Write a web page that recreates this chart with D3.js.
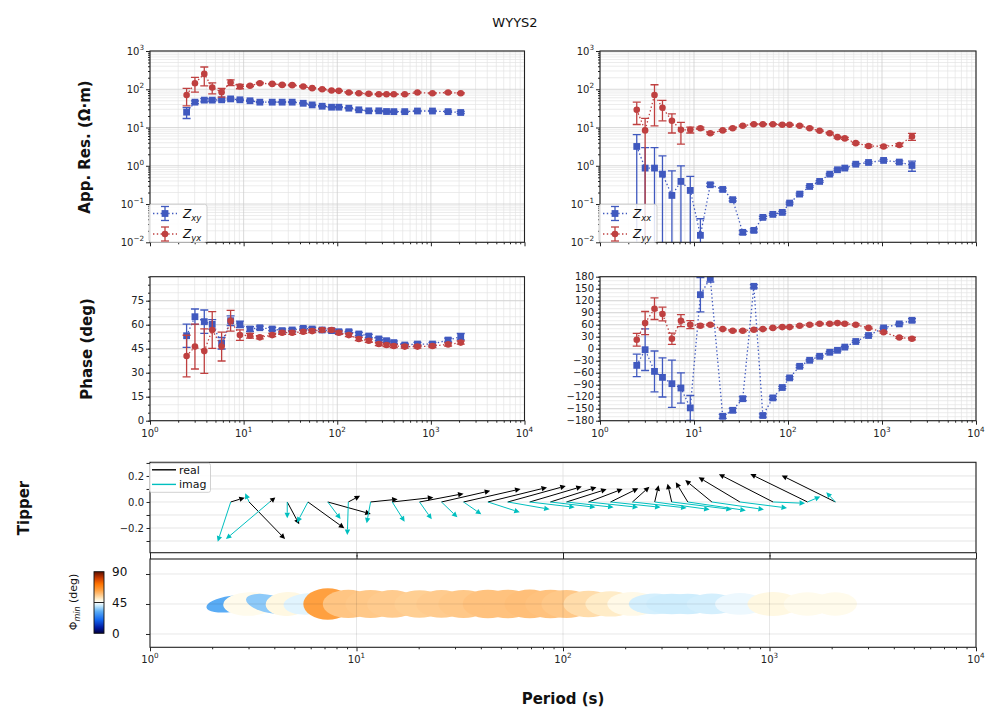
<!DOCTYPE html>
<html><head><meta charset="utf-8">
<script src="https://cdn.jsdelivr.net/npm/d3@7"></script>
<style>body{margin:0;background:#fff;} svg{font-family:"DejaVu Sans",sans-serif;}</style>
</head><body>
<svg id="c" width="1003" height="724"></svg>
<script>
// ---------------- DATA ----------------
const periods = [2.46,3.02,3.8,4.62,5.82,7.26,9.13,11.7,14.9,20.2,25.8,33,43.3,54,69,86.9,104,133,170,217,278,336,402,526,719,1040,1528,2084];

const resXY    = [25.2,46,52,52,53,56,53,50,46,46,46,46,43,39,36,34,34,32,29,27.3,27.3,26.2,26,26,27,27,26,24.7];
const resXYErr = [8,4,5,4,3,3,2.5,2,1.5,1.5,1.5,1.5,1.3,1.2,1.1,1,1,1,0.9,0.9,0.9,0.9,0.9,0.9,0.9,0.9,1,1.5];
const resYX    = [71,144,252,111,84,150,118,123,144,138,130,128,118,107,100,93,91,82,79,76,74,74,74,74,82,79,82,79];
const resYXErr = [34,60,130,35,22,26,15,6,6,5,5,5,4,4,3,3,3,3,3,3,3,3,3,3,3,3,3,3];
const resXX    = [3.2,0.87,0.87,0.605,0.168,0.39,0.227,0.0152,0.319,0.241,0.13,0.0182,0.0205,0.0448,0.0537,0.0605,0.106,0.182,0.288,0.39,0.605,0.787,0.87,1.1,1.22,1.38,1.25,1.02];
const resXXErr = [3.3,2.1,2.1,1.2,0.57,0.61,0.3,0.026,0.03,0.02,0.01,0.002,0.002,0.003,0.003,0.004,0.006,0.01,0.015,0.02,0.03,0.04,0.04,0.05,0.06,0.08,0.1,0.3];
const resYY    = [29,8.4,71,33,15,8.7,8.7,9.6,7.1,8.4,9.6,11.1,12.2,12.2,12.2,11.8,11.8,11.1,9.6,8.2,7.1,5.6,5.2,3.9,3.3,3.2,3.5,5.8];
const resYYErr = [17,9,60,18,7.8,5,1.5,0.6,0.4,0.4,0.4,0.4,0.4,0.4,0.4,0.4,0.4,0.4,0.4,0.3,0.3,0.3,0.3,0.2,0.2,0.2,0.3,1.2];

const phsXY    = [53.1,65,61.9,60.2,48.4,62.5,60.2,57.3,58.1,57.3,56.3,56.7,57.7,57.3,56.7,56.3,55.6,55.6,54.2,52.9,51.1,50,48.8,47.3,47.9,47.9,50.4,52.5];
const phsXYErr = [7.3,4.8,7.3,3,3.6,3,2,1.5,1,1,1,1,1,1,1,1,1,1,1,1,1,1,1,1,1,1,1.2,2];
const phsYX    = [40.4,46.3,43.5,56.7,46.3,62.5,53.5,53.1,52.1,53.5,55,55,55.6,56,56.7,56.7,55,53.5,51.1,50,47.9,47.3,46.7,46.3,46.3,46.7,47.7,48.8];
const phsYXErr = [13,14,13.9,11.5,9,6.5,3.3,1.5,1,1,1,1,1,1,1,1,1,1,1,1,1,1,1,1,1,1,1,1];
const phsXX    = [-41.7,-2.5,-56.7,-71.7,-87.5,-98.3,-148,135,176.7,-169,-154,-125,156,-167,-123,-97,-73,-44,-29,-19,-9,-4,4,18,33,52,62,71];
const phsXXErr = [28,52,51,49,59,38,31,43,10,5,5,5,4,4,4,3,3,3,2,2,2,2,2,2,2,2,2,4];
const phsYY    = [22.5,64,100,86.7,25,70,60,57.5,60,49,45,45,47.5,49,52,54,54,57.5,60,62.5,62.5,64,62.5,60,52,41,28,25];
const phsYYErr = [16,29,27,17,14,15,10,3,2,2,2,2,2,2,2,2,2,2,2,2,2,2,2,2,2,2,2,3];

// tipper components: x in decades of period, y in tipper units
const tipRealX = [0.068,0.174,0.027,0.058,0.176,0.208,0.057,0.131,0.199,0.213,0.236,0.276,0.286,0.281,0.252,0.223,0.194,0.165,0.134,0.082,0.019,-0.02,-0.058,-0.129,-0.2,-0.262,-0.277,-0.26];
const tipRealY = [0.033,-0.285,0.035,-0.172,-0.202,-0.092,0.048,0.021,0.035,0.064,0.086,0.1,0.112,0.123,0.118,0.113,0.098,0.1,0.105,0.117,0.128,0.141,0.152,0.168,0.19,0.214,0.215,0.204];
const tipImagX = [-0.063,-0.019,-0.212,0,-0.053,0.062,-0.005,-0.019,0.06,0.059,0.077,0.086,0.154,0.203,0.218,0.218,0.228,0.24,0.242,0.262,0.266,0.291,0.281,0.252,0.228,0.155,0.062,-0.044];
const tipImagY = [-0.305,0.067,-0.285,-0.125,-0.159,-0.131,-0.254,-0.164,-0.152,-0.133,-0.118,-0.095,-0.079,-0.056,-0.041,-0.041,-0.041,-0.041,-0.041,-0.046,-0.058,-0.058,-0.065,-0.058,-0.046,-0.01,0.042,0.075];

// phase tensor
const phiMin  = [32,47,36,48,42.5,63,56.5,56,55.5,55,55.5,56,57,57,57.5,57,56,53,50.5,47.5,41.5,41,41,41.5,43.5,48,47,47];
const phiMax  = [68,72,67,60,68,68,71,70,70,70,70,70,70,70,70,70,70,70,70,70,72,71,70,70,69,71,66,60];
const azimuth = [8,2,-12,2,3,0,0,0,0,0,0,0,0,0,0,0,0,0,0,0,0,0,0,0,0,0,0,0];

const decades = [1,10,100,1000,10000];
const resTicks = [1e-2,1e-1,1,10,100,1000];
const phaseTicksL = [0,15,30,45,60,75];
const phaseTicksR = d3.range(-180,181,30);
const tipTicks = [-0.2,0,0.2];
const ptTicks = [0,45,90];

// ---------------- LAYOUT ----------------
const L = {
  resL:{x0:150,x1:524.5,y0:51,y1:242.3},
  resR:{x0:600,x1:976,y0:51,y1:242.3},
  phL:{x0:150,x1:524.5,y0:276.7,y1:420.7},
  phR:{x0:600,x1:976,y0:276.7,y1:420.7},
  tip:{x0:150,x1:976,y0:462.3,y1:552.7},
  pt:{x0:150,x1:976,y0:559,y1:647.3}
};
const cBlue = "rgb(64,89,191)", cRed = "rgb(191,64,64)", cCyan = "#00bfbf";
const TICKF = 10;

const svg = d3.select("#c");
const defs = svg.append("defs");

function minorLog(dom){
  const out=[];
  for(let e=Math.round(Math.log10(dom[0])); e<Math.round(Math.log10(dom[1])); e++)
    for(let m=2;m<10;m++) out.push(m*Math.pow(10,e));
  return out;
}
function expText(sel, v){
  const e = Math.round(Math.log10(v));
  sel.text(null);
  sel.append("tspan").text("10");
  sel.append("tspan").attr("dy",-5).attr("font-size",TICKF*0.72).text(e<0?"\u2212"+(-e):String(e));
}
let clipId=0;
function makePanel(p){
  const id="clip"+(clipId++);
  defs.append("clipPath").attr("id",id).append("rect")
    .attr("x",p.x0).attr("y",p.y0).attr("width",p.x1-p.x0).attr("height",p.y1-p.y0);
  const g = svg.append("g");
  return {g, grid:g.append("g"), plot:g.append("g").attr("clip-path",`url(#${id})`), axes:g.append("g")};
}
function frame(P,p){
  P.axes.append("rect").attr("x",p.x0).attr("y",p.y0).attr("width",p.x1-p.x0).attr("height",p.y1-p.y0)
    .attr("fill","none").attr("stroke","#222").attr("stroke-width",1.1);
}
function xAxisLog(P,p,x,labels,minor){
  const ax = d3.axisBottom(x).tickValues(decades).tickSize(4).tickFormat("");
  const gA = P.axes.append("g").attr("transform",`translate(0,${p.y1})`).call(ax);
  gA.select(".domain").remove();
  gA.selectAll("line").attr("stroke","#222");
  if(minor){
    const gm = P.axes.append("g").attr("transform",`translate(0,${p.y1})`)
      .call(d3.axisBottom(x).tickValues(minorLog(x.domain())).tickSize(2).tickFormat(""));
    gm.select(".domain").remove(); gm.selectAll("line").attr("stroke","#222");
  }
  if(labels){
    P.axes.selectAll(null).data(decades).join("text")
      .attr("x",d=>x(d)).attr("y",p.y1+16).attr("text-anchor","middle")
      .attr("font-size",TICKF).attr("fill","#222").each(function(d){expText(d3.select(this),d);});
  }
}
function gridLines(P,p,x,y,xv,yv,color,w){
  P.grid.selectAll(null).data(xv).join("line").attr("x1",d=>x(d)).attr("x2",d=>x(d))
    .attr("y1",p.y0).attr("y2",p.y1).attr("stroke",color).attr("stroke-width",w);
  P.grid.selectAll(null).data(yv).join("line").attr("y1",d=>y(d)).attr("y2",d=>y(d))
    .attr("x1",p.x0).attr("x2",p.x1).attr("stroke",color).attr("stroke-width",w);
}
function series(P,x,y,vals,errs,color,marker,yMinClip){
  const pts = periods.map((t,i)=>({t,v:vals[i],e:errs[i]}));
  const line = d3.line().x(d=>x(d.t)).y(d=>y(d.v));
  P.plot.append("path").datum(pts).attr("d",line).attr("fill","none")
    .attr("stroke",color).attr("stroke-width",1.3).attr("stroke-dasharray","1.4,2.4");
  const eb = P.plot.append("g").attr("stroke",color).attr("stroke-width",1.3);
  pts.forEach(d=>{
    const lo = d.v-d.e;
    const yl = (yMinClip!==undefined && lo<=0) ? y(yMinClip)+5 : y(lo);
    const yh = y(d.v+d.e), xx=x(d.t);
    eb.append("line").attr("x1",xx).attr("x2",xx).attr("y1",yl).attr("y2",yh);
    eb.append("line").attr("x1",xx-4).attr("x2",xx+4).attr("y1",yh).attr("y2",yh);
    if(!(yMinClip!==undefined && lo<=0))
      eb.append("line").attr("x1",xx-4).attr("x2",xx+4).attr("y1",yl).attr("y2",yl);
  });
  if(marker==="s"){
    P.plot.selectAll(null).data(pts).join("rect")
      .attr("x",d=>x(d.t)-3.4).attr("y",d=>y(d.v)-3.4).attr("width",6.8).attr("height",6.8).attr("fill",color);
  } else {
    P.plot.selectAll(null).data(pts).join("circle")
      .attr("cx",d=>x(d.t)).attr("cy",d=>y(d.v)).attr("r",3.3).attr("fill",color);
  }
}
function legendRes(P,p,labels){
  const g = P.axes.append("g");
  g.append("rect").attr("x",p.x0-1).attr("y",204.3).attr("width",58).attr("height",38).attr("rx",2.5)
    .attr("fill","rgba(255,255,255,0.85)").attr("stroke","#ccc").attr("stroke-width",0.9);
  labels.forEach((lab,i)=>{
    const cy = 213.5 + i*20.5, cx = p.x0+15, col = lab.c;
    g.append("line").attr("x1",p.x0+3).attr("x2",p.x0+27).attr("y1",cy).attr("y2",cy)
      .attr("stroke",col).attr("stroke-width",1.3).attr("stroke-dasharray","1.4,2.4");
    g.append("line").attr("x1",cx).attr("x2",cx).attr("y1",cy-7).attr("y2",cy+7).attr("stroke",col).attr("stroke-width",1.3);
    g.append("line").attr("x1",cx-4).attr("x2",cx+4).attr("y1",cy-7).attr("y2",cy-7).attr("stroke",col).attr("stroke-width",1.3);
    g.append("line").attr("x1",cx-4).attr("x2",cx+4).attr("y1",cy+7).attr("y2",cy+7).attr("stroke",col).attr("stroke-width",1.3);
    if(lab.m==="s") g.append("rect").attr("x",cx-3.4).attr("y",cy-3.4).attr("width",6.8).attr("height",6.8).attr("fill",col);
    else g.append("circle").attr("cx",cx).attr("cy",cy).attr("r",3.3).attr("fill",col);
    const t = g.append("text").attr("x",p.x0+33).attr("y",cy+4).attr("font-size",12).attr("font-style","italic").attr("fill","#111");
    t.append("tspan").text("Z");
    t.append("tspan").attr("dy",3).attr("font-size",8.5).text(lab.s);
  });
}

// ---------------- RESISTIVITY ----------------
function resPanel(p, sA, sB, lab){
  const P = makePanel(p);
  const x = d3.scaleLog().domain([1,1e4]).range([p.x0,p.x1]);
  const y = d3.scaleLog().domain([1e-2,1e3]).range([p.y1,p.y0]);
  gridLines(P,p,x,y,minorLog(x.domain()),minorLog(y.domain()),"#e4e4e4",0.7);
  gridLines(P,p,x,y,decades,resTicks,"#cfcfcf",0.8);
  series(P,x,y,sA.v,sA.e,cBlue,"s",1e-2);
  series(P,x,y,sB.v,sB.e,cRed,"o",1e-2);
  frame(P,p);
  xAxisLog(P,p,x,false,true);
  const ay = P.axes.append("g").attr("transform",`translate(${p.x0},0)`)
    .call(d3.axisLeft(y).tickValues(resTicks).tickSize(4).tickFormat(""));
  ay.select(".domain").remove(); ay.selectAll("line").attr("stroke","#222");
  const am = P.axes.append("g").attr("transform",`translate(${p.x0},0)`)
    .call(d3.axisLeft(y).tickValues(minorLog(y.domain())).tickSize(2).tickFormat(""));
  am.select(".domain").remove(); am.selectAll("line").attr("stroke","#222");
  P.axes.selectAll(null).data(resTicks).join("text").attr("x",p.x0-6).attr("y",d=>y(d)+4)
    .attr("text-anchor","end").attr("font-size",TICKF).attr("fill","#222")
    .each(function(d){expText(d3.select(this),d);});
  legendRes(P,p,lab);
}
resPanel(L.resL,{v:resXY,e:resXYErr},{v:resYX,e:resYXErr},[{s:"xy",c:cBlue,m:"s"},{s:"yx",c:cRed,m:"o"}]);
resPanel(L.resR,{v:resXX,e:resXXErr},{v:resYY,e:resYYErr},[{s:"xx",c:cBlue,m:"s"},{s:"yy",c:cRed,m:"o"}]);

// ---------------- PHASE ----------------
function phasePanel(p, dom, ticks, minorStep, sA, sB){
  const P = makePanel(p);
  const x = d3.scaleLog().domain([1,1e4]).range([p.x0,p.x1]);
  const y = d3.scaleLinear().domain(dom).range([p.y1,p.y0]);
  const minors = d3.range(dom[0],dom[1]+0.001,minorStep);
  gridLines(P,p,x,y,minorLog(x.domain()),minors,"#e4e4e4",0.7);
  gridLines(P,p,x,y,decades,ticks,"#cfcfcf",0.8);
  series(P,x,y,sA.v,sA.e,cBlue,"s");
  series(P,x,y,sB.v,sB.e,cRed,"o");
  frame(P,p);
  xAxisLog(P,p,x,true,true);
  const ay = P.axes.append("g").attr("transform",`translate(${p.x0},0)`)
    .call(d3.axisLeft(y).tickValues(ticks).tickSize(4).tickFormat(""));
  ay.select(".domain").remove(); ay.selectAll("line").attr("stroke","#222");
  const am = P.axes.append("g").attr("transform",`translate(${p.x0},0)`)
    .call(d3.axisLeft(y).tickValues(minors).tickSize(2).tickFormat(""));
  am.select(".domain").remove(); am.selectAll("line").attr("stroke","#222");
  P.axes.selectAll(null).data(ticks).join("text").attr("x",p.x0-6).attr("y",d=>y(d)+3.6)
    .attr("text-anchor","end").attr("font-size",TICKF).attr("fill","#222")
    .text(d=>d<0?"\u2212"+(-d):String(d));
}
phasePanel(L.phL,[0,90],phaseTicksL,5,{v:phsXY,e:phsXYErr},{v:phsYX,e:phsYXErr});
phasePanel(L.phR,[-180,180],phaseTicksR,10,{v:phsXX,e:phsXXErr},{v:phsYY,e:phsYYErr});

// ---------------- TIPPER ----------------
(function(){
  const p = L.tip, P = makePanel(p);
  const x = d3.scaleLog().domain([1,1e4]).range([p.x0,p.x1]);
  const y = d3.scaleLinear().domain([-0.39,0.305]).range([p.y1,p.y0]);
  const yg = d3.range(-0.3,0.301,0.1);
  gridLines(P,p,x,y,decades,yg,"#dedede",0.8);
  function arrow(g,x1,y1,x2,y2,col){
    const dx=x2-x1, dy=y2-y1, Ln=Math.hypot(dx,dy);
    if(Ln<0.5) return;
    const ux=dx/Ln, uy=dy/Ln, hl=Math.min(5.5,Ln*0.7), hw=2.7;
    const bx=x2-ux*hl, by=y2-uy*hl;
    g.append("line").attr("x1",x1).attr("y1",y1).attr("x2",bx).attr("y2",by).attr("stroke",col).attr("stroke-width",1);
    g.append("path").attr("d",`M${x2},${y2}L${bx-uy*hw},${by+ux*hw}L${bx+uy*hw},${by-ux*hw}Z`).attr("fill",col);
  }
  periods.forEach((t,i)=>{
    const lt = Math.log10(t);
    arrow(P.plot,x(t),y(0),x(Math.pow(10,lt+tipRealX[i])),y(tipRealY[i]),"#000");
    arrow(P.plot,x(t),y(0),x(Math.pow(10,lt+tipImagX[i])),y(tipImagY[i]),cCyan);
  });
  frame(P,p);
  const ax = P.axes.append("g").attr("transform",`translate(0,${p.y1})`)
    .call(d3.axisBottom(x).tickValues(decades).tickSize(4).tickFormat(""));
  ax.select(".domain").remove(); ax.selectAll("line").attr("stroke","#222");
  const ay = P.axes.append("g").attr("transform",`translate(${p.x0},0)`)
    .call(d3.axisLeft(y).tickValues(yg).tickSize(3.5).tickFormat(""));
  ay.select(".domain").remove(); ay.selectAll("line").attr("stroke","#222");
  P.axes.selectAll(null).data(tipTicks).join("text").attr("x",p.x0-6).attr("y",d=>y(d)+3.6)
    .attr("text-anchor","end").attr("font-size",TICKF).attr("fill","#222")
    .text(d=>(d<0?"\u2212":"")+Math.abs(d).toFixed(1));
  // legend
  const lg = P.axes.append("g");
  lg.append("rect").attr("x",p.x0-0.5).attr("y",p.y0+1).attr("width",61).attr("height",29).attr("rx",2)
    .attr("fill","rgba(255,255,255,0.85)").attr("stroke","#ccc").attr("stroke-width",0.9);
  [["real","#000"],["imag",cCyan]].forEach((d,i)=>{
    const cy = p.y0+7.5+i*14.6;
    lg.append("line").attr("x1",p.x0+2).attr("x2",p.x0+26).attr("y1",cy).attr("y2",cy).attr("stroke",d[1]).attr("stroke-width",1.4);
    lg.append("text").attr("x",p.x0+29).attr("y",cy+4).attr("font-size",11).attr("fill","#111").text(d[0]);
  });
})();

// ---------------- PHASE TENSOR ----------------
const ptColor = d3.scaleLinear()
  .domain([0,8,20,32,40,45,49,56,63,72,81,90])
  .range(["#00003c","#0018a0","#1468f0","#5aacf5","#c2e8fc","#ffffff","#fff6d8","#ffc888","#ffa040","#ff7400","#c83800","#5a1000"])
  .interpolate(d3.interpolateRgb);
(function(){
  const p = L.pt, P = makePanel(p);
  const x = d3.scaleLog().domain([1,1e4]).range([p.x0,p.x1]);
  const y = d3.scaleLinear().domain([-20,112.5]).range([p.y1,p.y0]);
  const sx = 0.36, sy = 0.25, yc = 45;
  periods.forEach((t,i)=>{
    P.plot.append("ellipse").attr("cx",0).attr("cy",0)
      .attr("rx",sx*phiMax[i]).attr("ry",sy*phiMin[i])
      .attr("transform",`translate(${x(t)},${y(yc)}) rotate(${-azimuth[i]})`)
      .attr("fill",ptColor(phiMin[i]));
  });
  P.plot.selectAll(null).data(decades).join("line").attr("x1",d=>x(d)).attr("x2",d=>x(d))
    .attr("y1",p.y0).attr("y2",p.y1).attr("stroke","rgba(0,0,0,0.12)").attr("stroke-width",0.8);
  P.plot.selectAll(null).data(ptTicks).join("line").attr("y1",d=>y(d)).attr("y2",d=>y(d))
    .attr("x1",p.x0).attr("x2",p.x1).attr("stroke","rgba(0,0,0,0.12)").attr("stroke-width",0.8);
  frame(P,p);
  xAxisLog(P,p,x,true,true);
  const axT = P.axes.append("g").attr("transform",`translate(0,${p.y0})`)
    .call(d3.axisTop(x).tickValues(decades).tickSize(4).tickFormat(""));
  axT.select(".domain").remove(); axT.selectAll("line").attr("stroke","#222");
  const ay = P.axes.append("g").attr("transform",`translate(${p.x0},0)`)
    .call(d3.axisLeft(y).tickValues(ptTicks).tickSize(4).tickFormat(""));
  ay.select(".domain").remove(); ay.selectAll("line").attr("stroke","#222");

  // colorbar
  const cb = {x:94,w:10,y0:571.7,y1:633.3};
  const cy = d3.scaleLinear().domain([0,90]).range([cb.y1,cb.y0]);
  const gr = defs.append("linearGradient").attr("id","ptg").attr("x1",0).attr("y1",1).attr("x2",0).attr("y2",0);
  d3.range(0,90.01,2.5).forEach(v=>gr.append("stop").attr("offset",v/90).attr("stop-color",ptColor(v)));
  svg.append("rect").attr("x",cb.x).attr("y",cb.y0).attr("width",cb.w).attr("height",cb.y1-cb.y0)
    .attr("fill","url(#ptg)").attr("stroke","#111").attr("stroke-width",0.9);
  svg.append("line").attr("x1",cb.x).attr("x2",cb.x+cb.w).attr("y1",cy(45)).attr("y2",cy(45)).attr("stroke","#222").attr("stroke-width",1);
  svg.selectAll(null).data(ptTicks).join("text").attr("x",cb.x+cb.w+8).attr("y",d=>cy(d)+4.5)
    .attr("font-size",12).attr("fill","#111").text(d=>d);
  const lt = svg.append("text").attr("transform",`translate(77,602) rotate(-90)`).attr("text-anchor","middle")
    .attr("font-size",11).attr("fill","#111");
  lt.append("tspan").text("\u03A6");
  lt.append("tspan").attr("dy",3).attr("font-size",8).attr("font-style","italic").text("min");
  lt.append("tspan").attr("dy",-3).text(" (deg)");
})();

// ---------------- LABELS ----------------
svg.append("text").attr("x",515).attr("y",27).attr("text-anchor","middle").attr("font-size",13).attr("fill","#111").text("WYYS2");
function ylab(txt,x,y,fs){
  svg.append("text").attr("transform",`translate(${x},${y}) rotate(-90)`).attr("text-anchor","middle")
    .attr("font-size",fs).attr("font-weight","bold").attr("fill","#111").text(txt);
}
ylab("App. Res. (\u03A9\u00B7m)",90,147,15);
ylab("Phase (deg)",92,349,15);
ylab("Tipper",29,508,15);
svg.append("text").attr("x",563).attr("y",704).attr("text-anchor","middle").attr("font-size",15)
  .attr("font-weight","bold").attr("fill","#111").text("Period (s)");
</script>
</body></html>
